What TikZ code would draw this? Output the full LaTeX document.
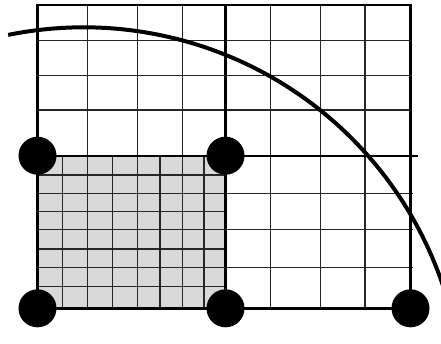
\documentclass[tikz,border=0pt]{standalone}
\begin{document}
\begin{tikzpicture}[x=1pt,y=-1pt,
  thinline/.style={line width=1.4pt, black!85},
  thickline/.style={line width=2.4pt, black},
  curveline/.style={line width=4pt, black},
  dot/.style={circle, fill=black, inner sep=0pt, minimum size=38pt}]
\useasboundingbox (0,0) rectangle (441,343);
\clip (0,0) rectangle (441,343);
% shaded square
\fill[black!15] (37.5,155.7) rectangle (225.5,308.3);
% fine grid in shaded square
\foreach \x in {62.3,112.3,160,204} \draw[thinline] (\x,155.7) -- (\x,308.3);
\foreach \y in {175,211.7,249,286.7} \draw[thinline] (37.5,\y) -- (225.5,\y);
% coarse grid
\foreach \x in {87.3,137.3,182.3,270.7,320.7,365} \draw[thinline] (\x,5) -- (\x,308.3);
\foreach \y in {40.7,75.7,110} \draw[thinline] (37.5,\y) -- (410.5,\y);
\foreach \y in {193.3,229.5,267.7} \draw[thinline] (37.5,\y) -- (413,\y);
% thick lines
\draw[thickline] (37.5,5) rectangle (410.5,308.3);
\draw[thickline] (225.5,5) -- (225.5,308.3);
\draw[thickline] (37.5,155.7) -- (418,155.7);
% arc
\draw[curveline] (83.7,406.3) ++(-101.5:379) arc[start angle=-101.5, end angle=-5, radius=379];
% dots
\node[dot] (d1) at (37.5,155.7) {};
\node[dot] (d2) at (225.5,155.7) {};
\node[dot] (d3) at (37.5,308.3) {};
\node[dot] (d4) at (225.5,308.3) {};
\node[dot] (d5) at (410.5,308.3) {};
\end{tikzpicture}
\end{document}
